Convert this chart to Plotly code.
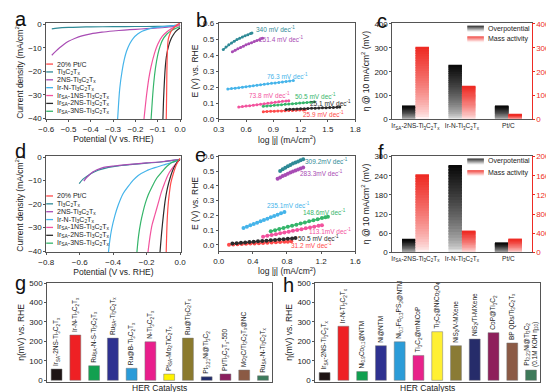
import plotly.graph_objects as go

W, H = 554, 392
FONT = "Arial, Liberation Sans, sans-serif"
AX = "#555555"

# ---------------- colours ----------------
C_PT, C_TI, C_2NS, C_IRN = "#FF4A4A", "#2F8A96", "#A84CB4", "#45B4EA"
C_IR1, C_IR2, C_IR3 = "#F2539E", "#2B2B2B", "#35B56A"

# ---------------- panel a (LSV, acid) ----------------
a_ptc_v = [0.0, -0.01, -0.02, -0.03, -0.04, -0.047, -0.053, -0.057, -0.059, -0.060, -0.061, -0.062]
a_ptc_j = [0.5, 0.0, -0.8, -1.8, -3.0, -4.5, -6.5, -12, -20, -28, -35, -40.5]
a_ti_v = [-0.575, -0.55, -0.5, -0.45, -0.4, -0.3, -0.2, -0.1, -0.05, 0.0]
a_ti_j = [-2.0, -1.7, -1.4, -1.25, -1.15, -1.05, -1.0, -0.95, -0.8, -0.3]
a_2ns_v = [-0.575, -0.56, -0.54, -0.52, -0.5, -0.47, -0.44, -0.4, -0.35, -0.3, -0.25, -0.2, -0.15, -0.1, -0.05, 0.0]
a_2ns_j = [-13.2, -11.8, -10.0, -8.5, -7.3, -6.0, -5.0, -4.1, -3.4, -2.9, -2.5, -2.2, -1.9, -1.6, -1.2, -0.5]
a_irn_v = [0.0, -0.05, -0.1, -0.14, -0.17, -0.19, -0.21, -0.225, -0.24, -0.25, -0.26, -0.27, -0.275, -0.28]
a_irn_j = [-0.3, -0.8, -1.3, -2.0, -3.0, -4.2, -6.0, -8.2, -11.5, -15.0, -20.0, -27.0, -33.0, -40.5]
a_ir1_v = [0.0, -0.02, -0.04, -0.06, -0.08, -0.1, -0.115, -0.13, -0.14, -0.15, -0.157, -0.162]
a_ir1_j = [-0.3, -1.0, -2.0, -3.3, -5.2, -8.5, -12.5, -18.0, -23.0, -30.0, -36.0, -40.5]
a_ir2_v = [0.0, -0.01, -0.02, -0.03, -0.04, -0.05, -0.06, -0.066, -0.07, -0.074, -0.077]
a_ir2_j = [-1.5, -2.3, -3.2, -4.5, -6.2, -8.8, -13.0, -18.0, -24.0, -32.0, -40.5]
a_ir3_v = [0.0, -0.02, -0.04, -0.06, -0.08, -0.09, -0.1, -0.11, -0.118, -0.124, -0.13]
a_ir3_j = [-1.0, -1.8, -2.8, -4.3, -7.0, -9.5, -13.0, -18.5, -25.0, -32.0, -40.5]

# ---------------- panel d (LSV, alkaline) ----------------
d_ptc_v = [0.0, -0.02, -0.04, -0.055, -0.065, -0.072, -0.077, -0.08, -0.083]
d_ptc_j = [-0.5, -3.0, -7.0, -11.0, -16.0, -21.0, -27.0, -33.0, -40.5]
d_ti_v = [-0.603, -0.58, -0.55, -0.52, -0.49, -0.45, -0.4, -0.35, -0.3, -0.2, -0.1, 0.0]
d_ti_j = [-11.3, -9.4, -7.9, -6.6, -5.6, -4.8, -4.1, -3.6, -3.2, -2.6, -2.0, -1.0]
d_2ns_v = [-0.575, -0.56, -0.54, -0.52, -0.5, -0.47, -0.44, -0.4, -0.35, -0.3, -0.2, -0.1, 0.0]
d_2ns_j = [-10.2, -8.8, -7.4, -6.3, -5.5, -4.7, -4.2, -3.8, -3.4, -3.1, -2.5, -1.9, -1.0]
d_irn_v = [0.0, -0.05, -0.1, -0.15, -0.2, -0.25, -0.28, -0.31, -0.34, -0.37, -0.39, -0.41, -0.42, -0.428]
d_irn_j = [-1.3, -2.3, -3.4, -4.5, -5.8, -7.8, -9.8, -12.5, -15.5, -20.5, -25.0, -31.0, -35.5, -40.5]
d_ir1_v = [0.0, -0.02, -0.044, -0.07, -0.092, -0.11, -0.13, -0.15, -0.168, -0.18, -0.192]
d_ir1_j = [-1.0, -2.5, -4.5, -7.3, -11.0, -14.5, -19.5, -24.5, -29.0, -34.0, -40.5]
d_ir2_v = [0.0, -0.02, -0.04, -0.06, -0.075, -0.088, -0.1, -0.11, -0.116, -0.12]
d_ir2_j = [-1.0, -2.5, -5.0, -9.0, -13.0, -18.0, -25.0, -32.0, -37.0, -40.5]
d_ir3_v = [0.0, -0.03, -0.054, -0.08, -0.111, -0.14, -0.168, -0.19, -0.207, -0.222, -0.235, -0.248, -0.258]
d_ir3_j = [-1.0, -1.8, -2.5, -4.0, -6.5, -9.0, -12.7, -16.0, -19.5, -23.5, -27.7, -33.5, -40.5]

# ---------------- panel b (Tafel, acid) ----------------
b_ti_x = [0.35, 0.38, 0.41, 0.44, 0.47, 0.50, 0.53, 0.56, 0.59, 0.62, 0.65, 0.665]
b_ti_y = [0.437, 0.452, 0.466, 0.478, 0.489, 0.499, 0.508, 0.516, 0.523, 0.530, 0.537, 0.541]
b_2ns_x = [0.45, 0.48, 0.51, 0.54, 0.57, 0.60, 0.63, 0.66, 0.69, 0.72, 0.75, 0.78]
b_2ns_y = [0.422, 0.432, 0.441, 0.450, 0.458, 0.466, 0.473, 0.480, 0.487, 0.494, 0.500, 0.507]
b_irn_x = [0.40, 0.44, 0.48, 0.52, 0.56, 0.60, 0.64, 0.68, 0.72, 0.76, 0.80, 0.84, 0.88, 0.92, 0.96, 1.00, 1.04, 1.08, 1.12]
b_irn_y = [0.188, 0.191, 0.194, 0.197, 0.200, 0.203, 0.206, 0.209, 0.212, 0.215, 0.218, 0.221, 0.224, 0.227, 0.230, 0.233, 0.236, 0.239, 0.242]
b_ir1_x = [0.52, 0.56, 0.60, 0.64, 0.68, 0.72, 0.76, 0.80, 0.84, 0.88, 0.92, 0.96, 1.00, 1.04, 1.07]
b_ir1_y = [0.075, 0.078, 0.081, 0.084, 0.087, 0.090, 0.093, 0.096, 0.099, 0.102, 0.105, 0.108, 0.111, 0.113, 0.115]
b_ir3_x = [0.79, 0.83, 0.87, 0.91, 0.95, 0.99, 1.03, 1.07, 1.11, 1.15, 1.19, 1.23, 1.27, 1.31, 1.35]
b_ir3_y = [0.080, 0.082, 0.084, 0.086, 0.088, 0.090, 0.092, 0.094, 0.096, 0.098, 0.100, 0.102, 0.104, 0.106, 0.108]
b_ir2_x = [1.04, 1.08, 1.12, 1.16, 1.20, 1.24, 1.28, 1.32, 1.36, 1.40, 1.44, 1.48, 1.52, 1.56, 1.60, 1.63]
b_ir2_y = [0.060, 0.061, 0.062, 0.063, 0.064, 0.065, 0.066, 0.067, 0.068, 0.069, 0.070, 0.071, 0.072, 0.073, 0.074, 0.075]
b_ptc_x = [0.79, 0.83, 0.87, 0.91, 0.95, 0.99, 1.03, 1.07, 1.11, 1.15, 1.19, 1.23, 1.25]
b_ptc_y = [0.046, 0.047, 0.048, 0.049, 0.050, 0.051, 0.052, 0.053, 0.054, 0.055, 0.056, 0.057, 0.058]
b_labels = ["340 mV dec<sup>-1</sup>", "251.4 mV dec<sup>-1</sup>", "76.3 mV dec<sup>-1</sup>",
            "73.8 mV dec<sup>-1</sup>", "50.5 mV dec<sup>-1</sup>", "25.1 mV dec<sup>-1</sup>",
            "25.9 mV dec<sup>-1</sup>"]
b_label_x = [0.925, 0.99, 1.06, 0.86, 1.36, 1.53, 1.45]
b_label_y = [0.565, 0.50, 0.27, 0.15, 0.147, 0.103, 0.029]

# ---------------- panel e (Tafel, alkaline) ----------------
e_ti_x = [0.72, 0.75, 0.78, 0.81, 0.84, 0.87, 0.90, 0.93, 0.96, 0.99]
e_ti_y = [0.500, 0.512, 0.523, 0.533, 0.542, 0.551, 0.559, 0.566, 0.573, 0.580]
e_2ns_x = [0.69, 0.72, 0.75, 0.78, 0.81, 0.84, 0.87, 0.90, 0.93, 0.96, 0.99]
e_2ns_y = [0.448, 0.457, 0.466, 0.474, 0.482, 0.490, 0.497, 0.504, 0.511, 0.518, 0.524]
e_irn_x = [0.29, 0.33, 0.37, 0.41, 0.45, 0.49, 0.53, 0.57, 0.61, 0.65, 0.69, 0.73, 0.77]
e_irn_y = [0.114, 0.123, 0.132, 0.141, 0.150, 0.159, 0.168, 0.177, 0.186, 0.195, 0.204, 0.213, 0.222]
e_ir3_x = [0.61, 0.66, 0.71, 0.76, 0.81, 0.86, 0.91, 0.96, 1.01, 1.06, 1.11, 1.16, 1.21, 1.25, 1.28]
e_ir3_y = [0.092, 0.099, 0.107, 0.114, 0.122, 0.129, 0.136, 0.144, 0.151, 0.159, 0.166, 0.173, 0.181, 0.187, 0.190]
e_ir1_x = [0.52, 0.57, 0.62, 0.67, 0.72, 0.77, 0.82, 0.87, 0.92, 0.97, 1.02, 1.07, 1.12, 1.17, 1.21]
e_ir1_y = [0.055, 0.061, 0.066, 0.072, 0.078, 0.083, 0.089, 0.095, 0.100, 0.106, 0.112, 0.117, 0.123, 0.129, 0.133]
e_ir2_x = [0.16, 0.21, 0.26, 0.31, 0.36, 0.41, 0.46, 0.51, 0.56, 0.61, 0.66, 0.71, 0.76, 0.81, 0.86, 0.90]
e_ir2_y = [0.008, 0.010, 0.013, 0.015, 0.018, 0.020, 0.023, 0.025, 0.028, 0.030, 0.033, 0.035, 0.038, 0.040, 0.043, 0.045]
e_ptc_x = [0.12, 0.17, 0.22, 0.27, 0.32, 0.37, 0.42, 0.47, 0.52, 0.57, 0.62, 0.67, 0.72, 0.77, 0.81, 0.85]
e_ptc_y = [0.000, 0.002, 0.003, 0.005, 0.006, 0.008, 0.009, 0.011, 0.012, 0.014, 0.015, 0.017, 0.018, 0.020, 0.021, 0.023]
e_labels = ["309.2mV dec<sup>-1</sup>", "283.3mV dec<sup>-1</sup>", "235.1mV dec<sup>-1</sup>",
            "148.6mV dec<sup>-1</sup>", "113.1mV dec<sup>-1</sup>", "50.5 mV dec<sup>-1</sup>",
            "31.2 mV dec<sup>-1</sup>"]
e_label_x = [1.26, 1.21, 0.815, 1.245, 1.30, 1.17, 1.09]
e_label_y = [0.566, 0.49, 0.273, 0.223, 0.092, 0.044, -0.004]

# ---------------- panels c, f ----------------
cf_cats = ["Ir<sub>SA</sub>-2NS-Ti<sub>3</sub>C<sub>2</sub>T<sub>x</sub>",
           "Ir-N-Ti<sub>3</sub>C<sub>2</sub>T<sub>x</sub>", "Pt/C"]
c_overpot = [56, 229, 56]
c_massact = [305, 141, 20]
f_overpot = [40, 274, 30]
f_massact = [1630, 445, 275]

# ---------------- panels g, h ----------------
g_names = ["Ir<sub>SA</sub>-2NS-Ti<sub>3</sub>C<sub>2</sub>T<sub>x</sub>",
           "Ir-N-Ti<sub>3</sub>C<sub>2</sub>T<sub>x</sub>",
           "Ru<sub>SA</sub>-N-S-Ti<sub>3</sub>C<sub>2</sub>T<sub>x</sub>",
           "Ru<sub>SA</sub>-Ti<sub>3</sub>C<sub>2</sub>T<sub>x</sub>",
           "Ru@B-Ti<sub>3</sub>C<sub>2</sub>T<sub>x</sub>",
           "N-Ti<sub>3</sub>C<sub>2</sub>T<sub>x</sub>",
           "Pt<sub>SA</sub>-Mo<sub>2</sub>TiC<sub>2</sub>T<sub>x</sub>",
           "Ru@Ti<sub>3</sub>C<sub>2</sub>T<sub>x</sub>",
           "Pt<sub>3.21</sub>Ni@Ti<sub>3</sub>C<sub>2</sub>",
           "Pt/Ti<sub>3</sub>C<sub>2</sub>T<sub>x</sub>-550",
           "Mo<sub>2</sub>C/Ti<sub>3</sub>C<sub>2</sub>T<sub>x</sub>@NC",
           "Ru<sub>SA</sub>-N-Ti<sub>3</sub>C<sub>2</sub>T<sub>x</sub>"]
g_values = [58, 233, 75, 217, 62, 198, 32, 217, 18, 33, 53, 23]
g_colors = ["#1E1414", "#EE2024", "#12A050", "#2E3190", "#2A9BD8", "#E91E8C",
            "#FFF200", "#8B7A2E", "#1F2A6B", "#8B1F5E", "#8B5A44", "#3B7A5C"]
h_names = ["Ir<sub>SA</sub>-2NS-Ti<sub>3</sub>C<sub>2</sub>T<sub>x</sub>",
           "Ir-N-Ti<sub>3</sub>C<sub>2</sub>T<sub>x</sub>",
           "Ni<sub>0.9</sub>Co<sub>0.1</sub>@NTM",
           "Ni@NTM",
           "Ni<sub>0.7</sub>Fe<sub>0.3</sub>PS<sub>3</sub>@NTM",
           "Ti<sub>3</sub>C<sub>2</sub>@mNiCoP",
           "Ti<sub>3</sub>C<sub>2</sub>@NiCo<sub>2</sub>O<sub>4</sub>",
           "NiS<sub>2</sub>/V-MXene",
           "NiS<sub>2</sub>/Ti-MXene",
           "CoP@Ti<sub>3</sub>C<sub>2</sub>",
           "BP QDs/Ti<sub>3</sub>C<sub>2</sub>T<sub>x</sub>",
           "Pt<sub>3.21</sub>Ni@Ti<sub>3</sub>C<sub>2</sub><br>(0.1M KOH η<sub>10</sub>)"]
h_values = [40, 278, 45, 178, 198, 128, 250, 178, 212, 245, 192, 53]
h_colors = ["#1E1414", "#EE2024", "#10A050", "#2E3190", "#2B9CD8", "#E8228A",
            "#FFF033", "#8A7B35", "#262C6A", "#8E1F5B", "#8B5A45", "#3E7A5A"]

legend_names = ["20% Pt/C", "Ti<sub>3</sub>C<sub>2</sub>T<sub>x</sub>",
                "2NS-Ti<sub>3</sub>C<sub>2</sub>T<sub>x</sub>", "Ir-N-Ti<sub>3</sub>C<sub>2</sub>T<sub>x</sub>",
                "Ir<sub>SA</sub>-1NS-Ti<sub>3</sub>C<sub>2</sub>T<sub>x</sub>",
                "Ir<sub>SA</sub>-2NS-Ti<sub>3</sub>C<sub>2</sub>T<sub>x</sub>",
                "Ir<sub>SA</sub>-3NS-Ti<sub>3</sub>C<sub>2</sub>T<sub>x</sub>"]
series_colors = [C_PT, C_TI, C_2NS, C_IRN, C_IR1, C_IR2, C_IR3]

# ======================================================================
def pxx(p):
    return p / W


def pxy(p):
    return 1 - p / H


fig = go.Figure()

# LSV curves
a_series = [(a_ptc_v, a_ptc_j), (a_ti_v, a_ti_j), (a_2ns_v, a_2ns_j), (a_irn_v, a_irn_j),
            (a_ir1_v, a_ir1_j), (a_ir2_v, a_ir2_j), (a_ir3_v, a_ir3_j)]
d_series = [(d_ptc_v, d_ptc_j), (d_ti_v, d_ti_j), (d_2ns_v, d_2ns_j), (d_irn_v, d_irn_j),
            (d_ir1_v, d_ir1_j), (d_ir2_v, d_ir2_j), (d_ir3_v, d_ir3_j)]
draw_order = [1, 2, 3, 4, 6, 5, 0]
for series, xa, ya in [(a_series, "x", "y"), (d_series, "x4", "y4")]:
    for i in draw_order:
        v, j = series[i]
        fig.add_trace(go.Scatter(x=v, y=j, mode="lines", line=dict(color=series_colors[i], width=1.2, shape="spline", smoothing=0.8),
                                 xaxis=xa, yaxis=ya, showlegend=False, hoverinfo="skip"))

# Tafel
b_series = [(b_ptc_x, b_ptc_y), (b_ti_x, b_ti_y), (b_2ns_x, b_2ns_y), (b_irn_x, b_irn_y),
            (b_ir1_x, b_ir1_y), (b_ir2_x, b_ir2_y), (b_ir3_x, b_ir3_y)]
e_series = [(e_ptc_x, e_ptc_y), (e_ti_x, e_ti_y), (e_2ns_x, e_2ns_y), (e_irn_x, e_irn_y),
            (e_ir1_x, e_ir1_y), (e_ir2_x, e_ir2_y), (e_ir3_x, e_ir3_y)]
for series, xa, ya, ms in [(b_series, "x2", "y2", 3), (e_series, "x5", "y5", 4)]:
    for i in range(7):
        xx, yy = series[i]
        fig.add_trace(go.Scatter(x=xx, y=yy, mode="lines+markers",
                                 line=dict(color=series_colors[i], width=1.2),
                                 marker=dict(color=series_colors[i], size=ms, symbol="circle"),
                                 xaxis=xa, yaxis=ya, showlegend=False, hoverinfo="skip"))

b_label_colors = [C_TI, C_2NS, C_IRN, C_IR1, C_IR3, C_IR2, C_PT]
e_label_colors = [C_TI, C_2NS, C_IRN, C_IR3, C_IR1, C_IR2, C_PT]
annotations = []
for labels, lx, ly, cols, xa, ya in [(b_labels, b_label_x, b_label_y, b_label_colors, "x2", "y2"),
                                     (e_labels, e_label_x, e_label_y, e_label_colors, "x5", "y5")]:
    for t, x, y, c in zip(labels, lx, ly, cols):
        annotations.append(dict(text=t, x=x, y=y, xref=xa, yref=ya, showarrow=False,
                                font=dict(size=6.5, color=c, family=FONT)))


# gradient bars (c, f)
def hex2rgb(h):
    h = h.lstrip("#")
    return [int(h[k:k + 2], 16) for k in (0, 2, 4)]


def mix(c1, c2, t):
    a, b = hex2rgb(c1), hex2rgb(c2)
    return "rgb(%d,%d,%d)" % tuple(round(a[k] + (b[k] - a[k]) * t) for k in range(3))


N_SEG = 30


def grad_bars(values, xa, ya, offset, width, c_bot, c_top, gamma):
    for k in range(N_SEG):
        t = (k / (N_SEG - 1)) ** gamma
        base = [v * k / N_SEG for v in values]
        hgt = [v * min((k + 1.6) / N_SEG, 1.0) - b for v, b in zip(values, base)]
        fig.add_trace(go.Bar(x=cf_cats, y=hgt, base=base, offset=offset, width=width,
                             marker=dict(color=mix(c_bot, c_top, t), line=dict(width=0)),
                             textposition="none",
                             xaxis=xa, yaxis=ya, showlegend=False, hoverinfo="skip"))


BW = 0.29
grad_bars(c_overpot, "x3", "y3", -BW, BW, "#E6E6E6", "#0A0A0A", 0.6)
grad_bars(c_massact, "x3", "y9", 0.0, BW, "#FFF2F2", "#EE2B24", 0.7)
grad_bars(f_overpot, "x6", "y6", -BW, BW, "#E6E6E6", "#0A0A0A", 0.6)
grad_bars(f_massact, "x6", "y10", 0.0, BW, "#FFF2F2", "#EE2B24", 0.7)

# catalyst comparison bars (g, h)
for names, vals, cols, xa, ya in [(g_names, g_values, g_colors, "x7", "y7"),
                                  (h_names, h_values, h_colors, "x8", "y8")]:
    fig.add_trace(go.Bar(x=list(range(len(vals))), y=vals, width=0.58,
                         marker=dict(color=cols, line=dict(color="#777777", width=0.5)),
                         text=names, textposition="outside", textangle=-90,
                         constraintext="none", cliponaxis=False,
                         textfont=dict(size=6.5, color="#222222", family=FONT),
                         xaxis=xa, yaxis=ya, showlegend=False, hoverinfo="skip"))

# manual legends for a and d
shapes = []
for top in (53.3, 188.3):
    for r, (name, col) in enumerate(zip(legend_names, series_colors)):
        yc = top + r * 8.05
        shapes.append(dict(type="line", xref="paper", yref="paper", x0=pxx(31), x1=pxx(38),
                           y0=pxy(yc), y1=pxy(yc), line=dict(color=col, width=1.3)))
        annotations.append(dict(text=name, x=pxx(40), y=pxy(yc), xref="paper", yref="paper",
                                xanchor="left", yanchor="middle", showarrow=False,
                                font=dict(size=7, color="#222222", family=FONT)))

# legends for c and f with gradient swatches
for y1, y2 in ((17, 28), (153, 165)):
    for yc, cb, ct, lab in ((y1, "#E6E6E6", "#0A0A0A", "Overpotential"),
                            (y2, "#FFF2F2", "#EE2B24", "Mass activity")):
        n = 6
        for k in range(n):
            shapes.append(dict(type="rect", xref="paper", yref="paper", x0=pxx(463), x1=pxx(480),
                               y0=pxy(yc + 3 - k), y1=pxy(yc + 2 - k), line=dict(width=0),
                               fillcolor=mix(cb, ct, k / (n - 1))))
        annotations.append(dict(text=lab, x=pxx(482), y=pxy(yc), xref="paper", yref="paper",
                                xanchor="left", yanchor="middle", showarrow=False,
                                font=dict(size=7, color="#222222", family=FONT)))

# right-hand (red) axis titles of c and f
red = "#EE2B24"
mlabel = "I<sub>m</sub> @ -0.01V (mA/mg <sub>metal</sub>)"
for yc in (60, 196):
    annotations.append(dict(text=mlabel, x=pxx(548), y=pxy(yc), xref="paper", yref="paper",
                            xanchor="center", yanchor="middle", textangle=-90, showarrow=False,
                            font=dict(size=7, color=red, family=FONT)))

# x titles of g and h
for xc in (147.5, 422.5):
    annotations.append(dict(text="HER Catalysts", x=pxx(xc), y=pxy(385), xref="paper", yref="paper",
                            xanchor="center", yanchor="middle", showarrow=False,
                            font=dict(size=8.5, color="#222222", family=FONT)))

# panel letters
for letter, x, y in [("a", 5, 7), ("b", 190, 8), ("c", 375, 9), ("d", 5, 142), ("e", 189, 146),
                     ("f", 374, 143), ("g", 5, 277), ("h", 280, 279)]:
    annotations.append(dict(text=letter, x=pxx(x), y=pxy(y), xref="paper", yref="paper",
                            xanchor="center", yanchor="middle", showarrow=False,
                            font=dict(size=20, color="#111111", family=FONT)))


def axis(domain, rng=None, title=None, **kw):
    d = dict(domain=domain, showline=True, linecolor=AX, linewidth=0.8, mirror=True,
             ticks="outside", ticklen=2, tickwidth=0.8, tickcolor=AX,
             tickfont=dict(size=8, color="#222222", family=FONT), showgrid=False, zeroline=False)
    if rng is not None:
        d["range"] = rng
    if title is not None:
        d["title"] = dict(text=title, font=dict(size=8.5, color="#222222", family=FONT), standoff=3)
    d.update(kw)
    return d


XA = [pxx(31), pxx(169)]
XB = [pxx(208), pxx(348)]
XC = [pxx(386), pxx(529)]
Y1 = [pxy(110), pxy(11)]
Y2 = [pxy(246), pxy(147)]
Y3 = [pxy(379), pxy(277)]

cat_axis = dict(type="category", ticks="", tickangle=0,
                tickfont=dict(size=6.5, color="#222222", family=FONT), range=[-0.5, 2.5])

fig.update_layout(
    width=W, height=H, margin=dict(l=0, r=0, t=0, b=0), plot_bgcolor="white", paper_bgcolor="white",
    font=dict(family=FONT), barmode="overlay", showlegend=False,
    xaxis=axis(XA, [-0.6, 0.003], "Potential (V vs. RHE)", anchor="y", dtick=0.1, tickformat=".1f"),
    yaxis=axis([pxy(110), pxy(11)], [-40.5, 0.6], "Current density (mA/cm<sup>2</sup>)", anchor="x", dtick=10),
    xaxis2=axis(XB, [0.3, 1.8], "log |j| (mA/cm<sup>2</sup>)", anchor="y2", dtick=0.3, tickformat=".1f"),
    yaxis2=axis(Y1, [-0.003, 0.605], "E (V) vs. RHE", anchor="x2", dtick=0.1, tickformat=".1f"),
    xaxis3=axis(XC, None, None, anchor="y3", **cat_axis),
    yaxis3=axis(Y1, [0, 405], "η @ 10 mA/cm<sup>2</sup> (mV)", anchor="x3", dtick=100, mirror=False),
    yaxis9=axis(Y1, [0, 405], None, anchor="x3", overlaying="y3", side="right", dtick=100, mirror=False,
                linecolor=red, tickcolor=red, tickfont=dict(size=8, color=red, family=FONT)),
    xaxis4=axis(XA, [-0.8, 0.004], "Potential (V vs. RHE)", anchor="y4", dtick=0.2, tickformat=".1f"),
    yaxis4=axis(Y2, [-40.5, 0.6], "Current density (mA/cm<sup>2</sup>)", anchor="x4", dtick=10),
    xaxis5=axis(XB, [0.0, 1.6], "log |j| (mA/cm<sup>2</sup>)", anchor="y5", dtick=0.4, tickformat=".1f"),
    yaxis5=axis([pxy(245), pxy(147)], [-0.045, 0.605], "E (V) vs. RHE", anchor="x5", dtick=0.1, tickformat=".1f"),
    xaxis6=axis(XC, None, None, anchor="y6", **cat_axis),
    yaxis6=axis(Y2, [0, 303], "η @ 10 mA/cm<sup>2</sup> (mV)", anchor="x6", dtick=60, mirror=False),
    yaxis10=axis(Y2, [0, 2020], None, anchor="x6", overlaying="y6", side="right", dtick=400, mirror=False,
                 linecolor=red, tickcolor=red, tickfont=dict(size=8, color=red, family=FONT)),
    xaxis7=axis([pxx(32), pxx(263)], [-0.5, 11.5], None, anchor="y7", showticklabels=False, ticks=""),
    yaxis7=axis(Y3, [-10, 502], "η(mV) vs. RHE", anchor="x7", dtick=100),
    xaxis8=axis([pxx(307), pxx(538)], [-0.5, 11.5], None, anchor="y8", showticklabels=False, ticks=""),
    yaxis8=axis(Y3, [-10, 502], "η(mV) vs. RHE", anchor="x8", dtick=100),
    annotations=annotations, shapes=shapes,
)

fig.write_html("out.html")
